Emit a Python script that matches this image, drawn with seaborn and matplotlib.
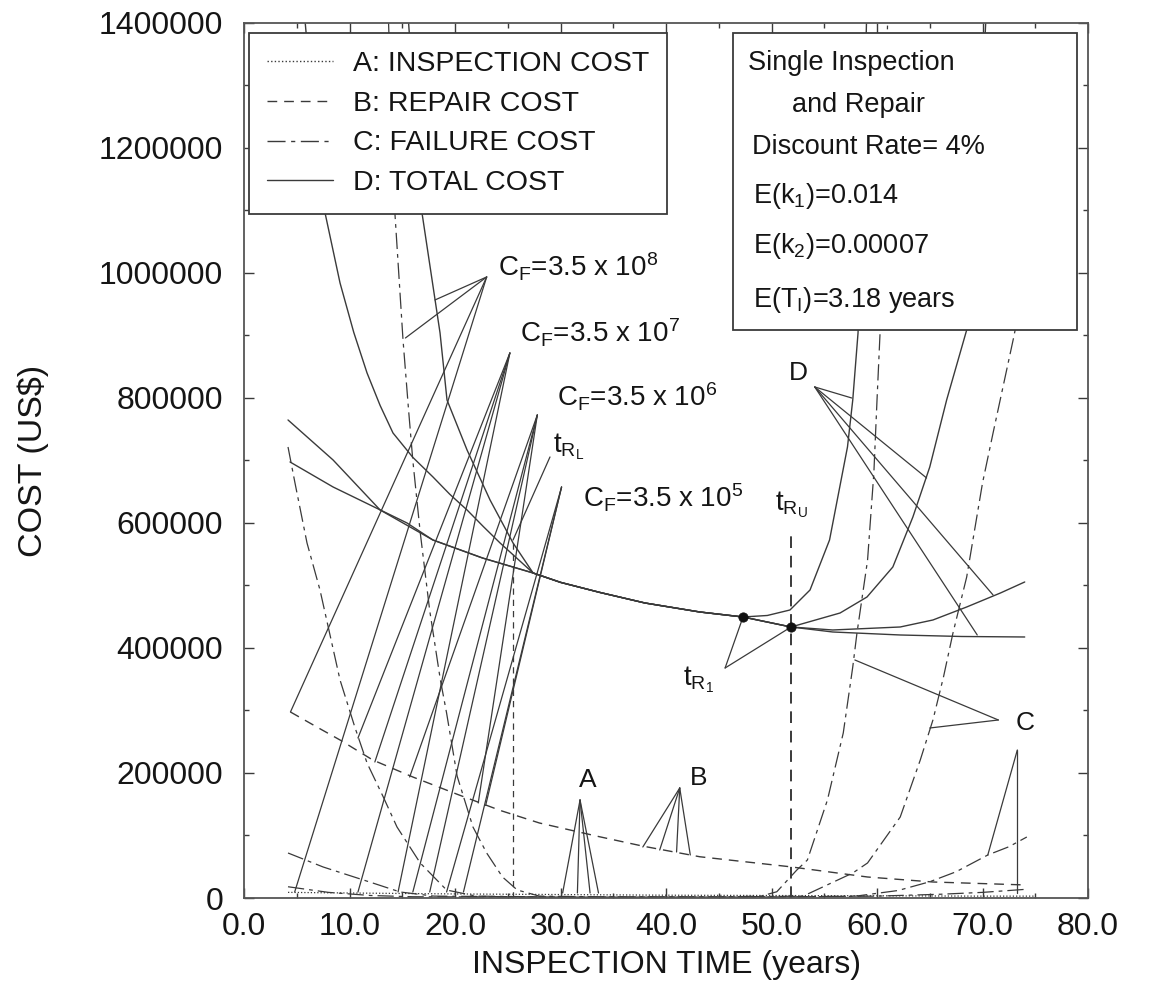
import matplotlib
matplotlib.use("Agg")
import matplotlib.pyplot as plt
import seaborn as sns
from matplotlib.lines import Line2D
from matplotlib.patches import Rectangle
from matplotlib.ticker import MultipleLocator, FormatStrFormatter

# -------------------------------
# Curves (x = inspection time, years ; y = cost, US$)
# -------------------------------
# common bottom part shared by the total cost curves
bottom_x = [27.4, 30.0, 33.7, 38.0, 43.2, 47.3]
bottom_y = [520000, 505000, 489000, 472000, 457600, 449600]

# D: total cost, one per failure cost C_F
d8_x = [15.6, 16.0, 16.87, 18.58, 19.24, 21.14, 23.32, 25.5] + bottom_x + [49.6, 51.75, 53.65, 55.5, 57.2, 57.7, 58.2, 58.6, 59.0]
d8_y = [1400000, 1300000, 1096000, 904000, 796800, 716800, 636800, 568000] + bottom_y + [452000, 460800, 492800, 572800, 721600, 796800, 904000, 1100000, 1400000]

d7_x = [5.8, 6.6, 7.68, 9.10, 10.4, 11.66, 12.9, 14.12, 16.0, 17.91, 19.5, 21.14, 22.7, 24.27] + bottom_x + [51.85, 56.5, 59.05, 61.5, 63.4, 65.0, 66.6, 68.5, 69.5, 70.3]
d7_y = [1400000, 1250000, 1096000, 984000, 905000, 840000, 788000, 744000, 705000, 673600, 646000, 620800, 594000, 568000] + bottom_y + [433600, 456000, 481600, 529600, 609600, 689600, 796800, 908800, 1100000, 1400000]

d6_x = [4.17, 8.44, 12.9, 17.9, 22.6] + bottom_x + [51.85, 55.8, 62.2, 65.3, 68.5, 71.7, 74.0]
d6_y = [764800, 700800, 620800, 572800, 544000] + bottom_y + [433600, 428800, 433600, 444800, 465600, 488000, 505600]

d5_x = [4.36, 8.44, 15.45, 17.9, 22.6] + bottom_x + [51.85, 55.8, 62.2, 68.0, 74.0]
d5_y = [697600, 657600, 600000, 572800, 544000] + bottom_y + [433600, 425600, 420800, 418400, 417600]

# C: failure cost
c8_x = [13.7, 13.9, 14.3, 15.07, 15.6, 16.0, 16.7, 17.6, 18.6, 19.2, 20.2, 21.7, 23.0, 24.5, 25.9, 28.0, 35.0, 45.0,
        49.0, 50.5, 52.4, 53.4, 55.3, 56.8, 57.7, 58.1, 59.1, 59.7, 60.0, 60.3, 60.6, 61.0]
c8_y = [1400000, 1300000, 1096000, 892800, 780000, 700000, 585000, 460000, 350000, 296000, 195000, 113600, 72000, 33600, 12800, 3000, 1500, 1500,
        3000, 10000, 44800, 60800, 156800, 264000, 369600, 424000, 540000, 680000, 796800, 908800, 1100000, 1400000]

c7_x = [4.17, 4.83, 5.97, 7.2, 9.1, 10.5, 11.66, 13.2, 14.5, 16.7, 19.2, 22.0, 30.0, 45.0, 53.0,
        57.7, 59.1, 62.2, 64.1, 65.3, 66.3, 67.2, 68.5, 70.0, 71.0, 72.9, 74.2]
c7_y = [721600, 664000, 568000, 492800, 348800, 273600, 216000, 161600, 113600, 56000, 12800, 3000, 1500, 1500, 3000,
        40000, 56000, 129600, 220800, 284800, 353600, 424000, 513600, 664000, 744000, 892800, 1000000]

c6_x = [4.17, 7.5, 12.2, 14.8, 18.0, 30.0, 50.0, 58.0, 62.0, 65.0, 67.5, 70.5, 72.5, 74.2]
c6_y = [72000, 49600, 24000, 9600, 3000, 1500, 1500, 3000, 12000, 26000, 42000, 68800, 82000, 97600]

c5_x = [4.17, 8.0, 12.0, 16.0, 30.0, 50.0, 60.0, 66.0, 70.0, 74.2]
c5_y = [18000, 9000, 4000, 2000, 1500, 1500, 3000, 6000, 9000, 14000]

# B: repair cost
b_x = [4.4, 6.9, 9.1, 12.2, 16.0, 20.2, 24.3, 28.0, 33.7, 37.8, 43.2, 51.75, 59.1, 65.3, 74.2]
b_y = [297600, 273600, 252800, 220800, 193600, 166000, 140000, 120000, 98000, 83000, 66000, 50000, 33600, 25600, 20800]

# A: inspection cost
a_x = [4.17, 10, 20, 30, 40, 50, 60, 70, 75.0]
a_y = [9000, 8000, 6500, 5500, 4500, 4000, 3500, 3000, 3000]

# repair time limits and marked optimum points
t_rl = 25.5
t_rl_top = 572800
t_ru = 51.85
t_ru_top = 584000
dot_x = [47.3, 51.85]
dot_y = [449600, 433600]

legend_labels = ["A: INSPECTION COST", "B: REPAIR COST", "C: FAILURE COST", "D: TOTAL COST"]
info_lines = ["Single Inspection", "and Repair", "Discount Rate= 4%",
              "E(k$_1$)=0.014", "E(k$_2$)=0.00007", "E(T$_I$)=3.18 years"]

# -------------------------------
# Style
# -------------------------------
sns.set_style("ticks")
plt.rcParams['font.family'] = ['Liberation Sans', 'DejaVu Sans']
plt.rcParams['mathtext.fontset'] = 'custom'
plt.rcParams['mathtext.rm'] = 'Liberation Sans'
plt.rcParams['mathtext.it'] = 'Liberation Sans:italic'
plt.rcParams['mathtext.default'] = 'regular'

INK = '#3a3a3a'
TXT = '#151515'
LS_A = (0, (1.0, 1.6))
LS_B = (0, (7, 5))
LS_C = (0, (13, 4, 3, 4))
LS_D = '-'

fig = plt.figure(figsize=(11.5, 9.98), dpi=100)
ax = fig.add_axes([0.2122, 0.1002, 0.7339, 0.8768])


def draw(x, y, ls, lw=1.0):
    sns.lineplot(x=x, y=y, ax=ax, color=INK, linestyle=ls, linewidth=lw,
                 sort=False, estimator=None, zorder=2)


for cx, cy in [(d8_x, d8_y), (d7_x, d7_y), (d6_x, d6_y), (d5_x, d5_y)]:
    draw(cx, cy, LS_D, 1.0)
for cx, cy in [(c8_x, c8_y), (c7_x, c7_y), (c6_x, c6_y), (c5_x, c5_y)]:
    draw(cx, cy, LS_C, 0.9)
draw(b_x, b_y, LS_B, 1.0)
draw(a_x, a_y, LS_A, 0.9)

# repair time limits
ax.plot([t_rl, t_rl], [0, t_rl_top], color=INK, lw=0.9, ls=(0, (5, 4)), zorder=2)
ax.plot([t_ru, t_ru], [0, t_ru_top], color=INK, lw=1.4, ls=(0, (6, 4)), zorder=2)
sns.scatterplot(x=dot_x, y=dot_y, ax=ax, color='#111111', s=45, edgecolor='#111111', zorder=4)

# -------------------------------
# Labels with leader lines
# -------------------------------
labels = [
    (24.08, 993600, r'C$_F$=3.5 x 10$^8$', 20),
    (26.16, 888000, r'C$_F$=3.5 x 10$^7$', 20),
    (29.67, 785600, r'C$_F$=3.5 x 10$^6$', 20),
    (32.10, 624000, r'C$_F$=3.5 x 10$^5$', 20),
    (29.30, 713600, r't$_{R_L}$', 20),
    (50.30, 620800, r't$_{R_U}$', 20),
    (41.60, 340800, r't$_{R_1}$', 20),
    (51.60, 828800, 'D', 19),
    (73.10, 268800, 'C', 19),
    (31.70, 177600, 'A', 19),
    (42.30, 180800, 'B', 19),
]
for lx, ly, s, fs in labels:
    ax.text(lx, ly, s, fontsize=fs, color=TXT, va='baseline', ha='left', zorder=6)

leaders = [
    ((23.0, 993600), [(18.1, 956800), (15.3, 896000), (4.4, 297600), (4.8, 9600)]),
    ((25.2, 872000), [(10.8, 256000), (12.4, 217600), (10.8, 9600), (14.6, 9600)]),
    ((27.8, 772800), [(15.7, 193600), (16.0, 9600), (17.6, 9600), (22.2, 152000)]),
    ((30.1, 657600), [(22.9, 148000), (19.2, 9600), (20.8, 9600)]),
    ((29.0, 705600), [(25.5, 572800)]),
    ((45.6, 368000), [(47.3, 449600), (51.85, 433600)]),
    ((54.1, 817600), [(57.6, 800000), (64.7, 672000), (71.0, 484800), (69.5, 420800)]),
    ((71.5, 284800), [(57.9, 380800), (65.0, 272000)]),
    ((73.3, 236800), [(70.5, 68800), (73.3, 8000)]),
    ((31.85, 156800), [(30.2, 8000), (31.6, 8000), (32.8, 8000), (33.6, 8000)]),
    ((41.3, 176000), [(37.8, 81600), (39.4, 76800), (41.0, 73600), (42.3, 68800)]),
]
for (sx, sy), targets in leaders:
    for tx, ty in targets:
        ax.plot([sx, tx], [sy, ty], color=INK, lw=0.9, zorder=3)

# -------------------------------
# Legend and info box
# -------------------------------
handles = [Line2D([], [], color=INK, lw=1.0, ls=ls) for ls in [LS_A, LS_B, LS_C, LS_D]]
leg = ax.legend(handles, legend_labels, loc='upper left', bbox_to_anchor=(0.0059, 0.9886),
                borderaxespad=0, fontsize=20.5, handlelength=2.3, handletextpad=0.7,
                labelspacing=0.48, borderpad=0.64, fancybox=False, framealpha=1,
                edgecolor=INK, facecolor='white')
leg.get_frame().set_linewidth(1.3)
leg.set_zorder(7)
for t in leg.get_texts():
    t.set_color(TXT)

ax.add_patch(Rectangle((0.5794, 0.6491), 0.4076, 0.3395, transform=ax.transAxes,
                       facecolor='white', edgecolor=INK, lw=1.3, zorder=5))
info_x = [47.8, 51.9, 48.15, 48.2, 48.2, 48.2]
info_y = [1324800, 1257600, 1190400, 1112000, 1032000, 945600]
for tx, ty, s in zip(info_x, info_y, info_lines):
    ax.text(tx, ty, s, fontsize=19.5, color=TXT, va='baseline', ha='left', zorder=6)

# -------------------------------
# Axes
# -------------------------------
ax.set_xlim(0, 80)
ax.set_ylim(0, 1400000)
ax.xaxis.set_major_locator(MultipleLocator(10))
ax.xaxis.set_minor_locator(MultipleLocator(5))
ax.yaxis.set_major_locator(MultipleLocator(200000))
ax.yaxis.set_minor_locator(MultipleLocator(100000))
ax.xaxis.set_major_formatter(FormatStrFormatter('%.1f'))
ax.yaxis.set_major_formatter(FormatStrFormatter('%d'))
ax.tick_params(which='both', direction='in', top=True, right=True, color=INK,
               labelsize=23, labelcolor=TXT, width=1.0)
ax.tick_params(which='major', length=7)
ax.tick_params(which='minor', length=3.5)
ax.tick_params(axis='x', pad=10)
ax.tick_params(axis='y', pad=15)
for sp in ax.spines.values():
    sp.set_linewidth(1.3)
    sp.set_color('#555555')

ax.set_xlabel('INSPECTION TIME (years)', fontsize=23, color=TXT, labelpad=6)
ax.set_ylabel(r'COST (US\$)', fontsize=24.5, color=TXT, labelpad=36)

fig.savefig('out.png', dpi=100)
